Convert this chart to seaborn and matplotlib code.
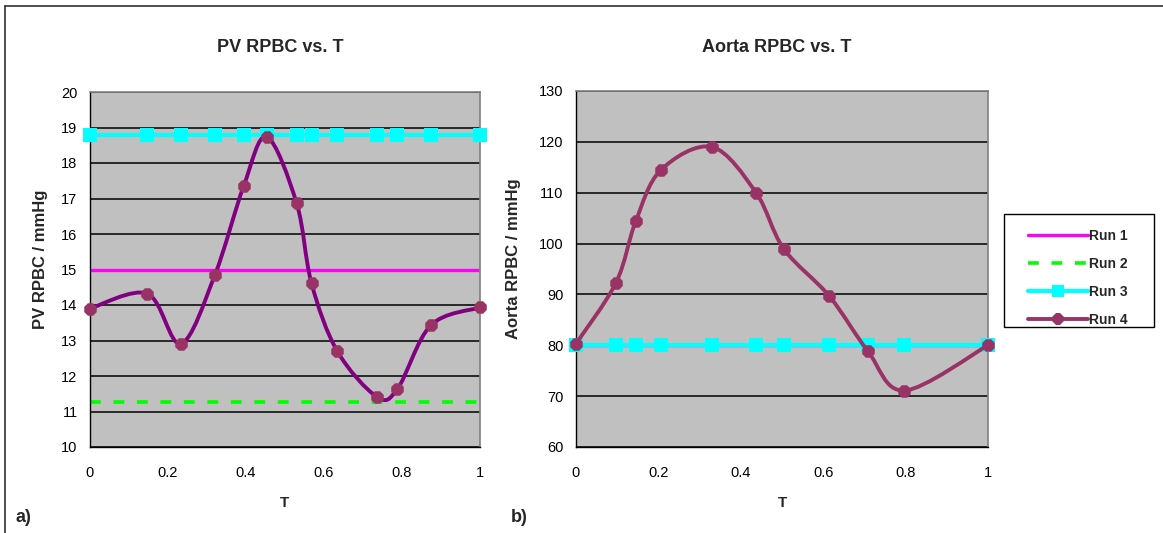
import numpy as np
import pandas as pd
import matplotlib
matplotlib.use("Agg")
import matplotlib.pyplot as plt
import seaborn as sns
from matplotlib.path import Path
from matplotlib.patches import PathPatch, Rectangle
from matplotlib.lines import Line2D

# ---------------- data ----------------
t_pv = [0.0, 0.147, 0.233, 0.32, 0.394, 0.453, 0.53, 0.568, 0.634, 0.735, 0.788, 0.874, 1.0]
pv_run1 = [15.0, 15.0, 15.0, 15.0, 15.0, 15.0, 15.0, 15.0, 15.0, 15.0, 15.0, 15.0, 15.0]
pv_run2 = [11.27, 11.27, 11.27, 11.27, 11.27, 11.27, 11.27, 11.27, 11.27, 11.27, 11.27, 11.27, 11.27]
pv_run3 = [18.78, 18.78, 18.78, 18.78, 18.78, 18.78, 18.78, 18.78, 18.78, 18.78, 18.78, 18.78, 18.78]
pv_run4 = [13.9, 14.32, 12.91, 14.84, 17.35, 18.74, 16.86, 14.61, 12.7, 11.42, 11.63, 13.43, 13.93]

t_ao = [0.0, 0.097, 0.145, 0.206, 0.33, 0.437, 0.504, 0.615, 0.708, 0.797, 1.0]
ao_run1 = [80.0, 80.0, 80.0, 80.0, 80.0, 80.0, 80.0, 80.0, 80.0, 80.0, 80.0]
ao_run2 = [80.0, 80.0, 80.0, 80.0, 80.0, 80.0, 80.0, 80.0, 80.0, 80.0, 80.0]
ao_run3 = [80.0, 80.0, 80.0, 80.0, 80.0, 80.0, 80.0, 80.0, 80.0, 80.0, 80.0]
ao_run4 = [80.3, 92.3, 104.4, 114.45, 119.0, 110.0, 99.0, 89.65, 78.9, 71.1, 80.0]

x_ticks = [0, 0.2, 0.4, 0.6, 0.8, 1.0]
x_tick_labels = ["0", "0.2", "0.4", "0.6", "0.8", "1"]
pv_yticks = [10, 11, 12, 13, 14, 15, 16, 17, 18, 19, 20]
ao_yticks = [60, 70, 80, 90, 100, 110, 120, 130]
series_names = ["Run 1", "Run 2", "Run 3", "Run 4"]

# ---------------- style ----------------
sns.set_style("white")
plt.rcParams["font.family"] = ["Liberation Sans", "DejaVu Sans"]

C1 = "#FF00FF"
C2 = "#00FF00"
C3 = "#00FFFF"
C4 = "#993366"
C4_LINE_PV = "#800080"
BG = "#C0C0C0"

W, H = 1163, 533
fig = plt.figure(figsize=(W / 100, H / 100), dpi=100)
fig.patch.set_facecolor("white")


def fx(px):
    return px / W


def fy(py):
    return 1 - py / H


ax1 = fig.add_axes([fx(90), fy(447), (480 - 90) / W, (447 - 92) / H])
ax2 = fig.add_axes([fx(576), fy(447), (988 - 576) / W, (447 - 91) / H])


def smooth_patch(x, y, color, lw, ax):
    pts = np.column_stack([x, y]).astype(float)
    n = len(pts)
    verts = [pts[0]]
    codes = [Path.MOVETO]
    for i in range(n - 1):
        p_prev = pts[max(i - 1, 0)]
        p_next2 = pts[min(i + 2, n - 1)]
        c1 = pts[i] + (pts[i + 1] - p_prev) / 6.0
        c2 = pts[i + 1] - (p_next2 - pts[i]) / 6.0
        verts += [c1, c2, pts[i + 1]]
        codes += [Path.CURVE4] * 3
    patch = PathPatch(Path(verts, codes), facecolor="none", edgecolor=color,
                      lw=lw, capstyle="round", joinstyle="round", zorder=4)
    ax.add_patch(patch)


def draw_panel(ax, t, r1, r2, r3, r4, line4_color, ylim, yticks, ylabel):
    ax.set_facecolor(BG)
    df = pd.DataFrame({"T": t, "r1": r1, "r2": r2, "r3": r3, "r4": r4})
    sns.lineplot(data=df, x="T", y="r1", ax=ax, color=C1, lw=2.4, sort=False,
                 estimator=None, zorder=2)
    sns.lineplot(data=df, x="T", y="r2", ax=ax, color=C2, lw=2.6, sort=False,
                 estimator=None, zorder=2.1, dashes=False, linestyle=(0, (3, 3.5)))
    sns.lineplot(data=df, x="T", y="r3", ax=ax, color=C3, lw=3.0, sort=False,
                 estimator=None, marker="s", markersize=9.5, markeredgewidth=0,
                 zorder=3, clip_on=False)
    smooth_patch(df["T"], df["r4"], line4_color, 2.8, ax)
    sns.scatterplot(data=df, x="T", y="r4", ax=ax, color=C4, marker="8", s=95,
                    linewidth=0, zorder=5, clip_on=False)
    ax.set_xlim(0, 1)
    ax.set_ylim(*ylim)
    ax.set_yticks(yticks)
    ax.set_yticklabels([str(v) for v in yticks])
    ax.set_xticks(x_ticks)
    ax.set_xticklabels(x_tick_labels)
    ax.yaxis.grid(True, color="#000000", lw=1.1)
    ax.xaxis.grid(False)
    ax.set_axisbelow(True)
    for s in ["top", "right"]:
        ax.spines[s].set_color("#808080")
        ax.spines[s].set_linewidth(1.2)
    for s in ["left", "bottom"]:
        ax.spines[s].set_color("#000000")
        ax.spines[s].set_linewidth(1.0)
    ax.tick_params(axis="both", which="major", direction="out", length=5,
                   width=1, color="black", labelsize=10.5, labelcolor="black")
    ax.tick_params(axis="x", pad=9)
    ax.tick_params(axis="y", pad=4)
    ax.set_xlabel("T", fontsize=11, fontweight="bold")
    ax.set_ylabel(ylabel, fontsize=12, fontweight="bold")


draw_panel(ax1, t_pv, pv_run1, pv_run2, pv_run3, pv_run4, C4_LINE_PV, (10, 20),
           pv_yticks, "PV RPBC / mmHg")
draw_panel(ax2, t_ao, ao_run1, ao_run2, ao_run3, ao_run4, C4, (60, 130),
           ao_yticks, "Aorta RPBC / mmHg")

ax1.yaxis.set_label_coords((48 - 90) / 390, 0.53)
ax1.xaxis.set_label_coords(0.5, -(496 - 447) / 355)
ax2.yaxis.set_label_coords((521 - 576) / 412, 0.53)
ax2.xaxis.set_label_coords(0.5, -(496 - 447) / 356)

# titles
fig.text(fx(280), fy(48), "PV RPBC vs. T", ha="center", va="center",
         fontsize=13, fontweight="bold")
fig.text(fx(777), fy(48), "Aorta RPBC vs. T", ha="center", va="center",
         fontsize=13, fontweight="bold")
fig.text(fx(15), fy(517), "a)", ha="left", va="center", fontsize=13, fontweight="bold")
fig.text(fx(511), fy(517), "b)", ha="left", va="center", fontsize=13, fontweight="bold")

# legend
handles = [
    Line2D([], [], color=C1, lw=2.4),
    Line2D([], [], color=C2, lw=2.6, linestyle=(0, (3, 3.5))),
    Line2D([], [], color=C3, lw=3.0, marker="s", markersize=9, markeredgewidth=0),
    Line2D([], [], color=C4, lw=2.8, marker="8", markersize=9, markeredgewidth=0),
]
fig.add_artist(Rectangle((fx(1004), fy(327)), (1154 - 1004) / W, (327 - 214) / H,
                         transform=fig.transFigure, facecolor="white",
                         edgecolor="black", lw=1.0, zorder=1))
leg = fig.legend(handles, series_names, loc="upper left",
                 bbox_to_anchor=(fx(1013), fy(214)), frameon=False,
                 prop={"weight": "bold", "size": 10}, handlelength=4.3,
                 handletextpad=0.1, labelspacing=1.0, numpoints=1,
                 borderpad=0.6)
leg.set_zorder(2)

# outer chart border
fig.add_artist(Line2D([fx(4.5), fx(4.5)], [0, fy(6)], transform=fig.transFigure,
                      color="#303030", lw=1.2))
fig.add_artist(Line2D([fx(4.5), 1], [fy(6), fy(6)], transform=fig.transFigure,
                      color="#303030", lw=1.2))

fig.savefig("out.png", dpi=100, facecolor="white")
